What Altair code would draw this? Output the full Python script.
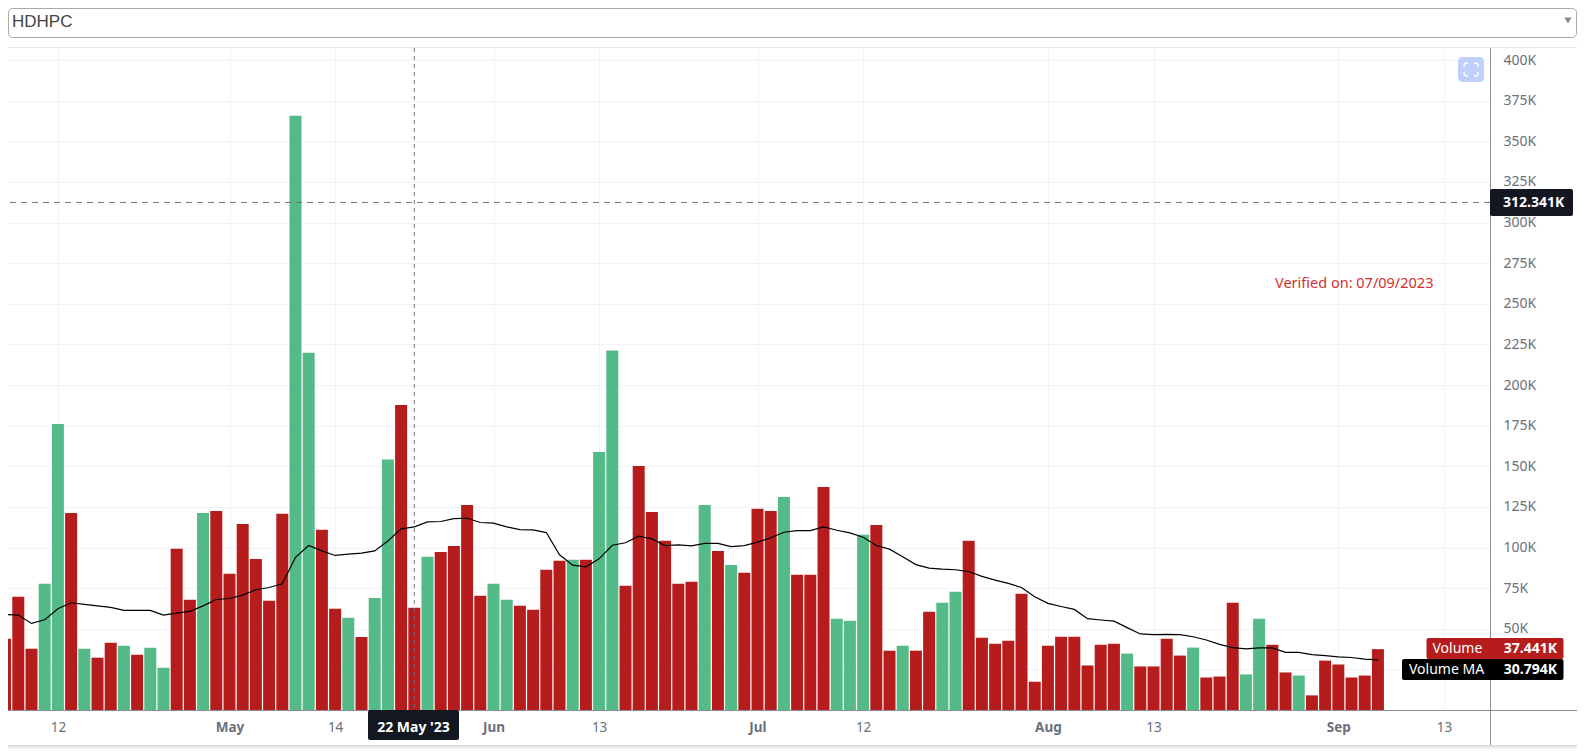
import altair as alt
import pandas as pd

# ---- values (volume in thousands) ----
volume = [43.8, 69.7, 37.7, 77.7, 176, 121.3, 37.7, 32.2, 41.4, 39.5, 34, 38.3, 26, 99.2, 67.8, 121.3, 122.5, 83.8, 114.5, 93,
          67.2, 120.7, 365.7, 219.9, 111, 62.3, 56.8, 45, 69, 154.1, 187.7, 62.9, 94.3, 97.3, 101, 126.2, 70.3, 77.7, 67.8, 64.1,
          61.7, 86.3, 91.8, 92.4, 92.4, 158.8, 221.3, 76.4, 150.2, 121.9, 104.1, 77.7, 78.9, 126.2, 97.9, 89.3, 84.4, 123.8, 122.5, 131.1,
          83.2, 83.2, 137.3, 56.1, 54.9, 107.8, 113.9, 36.5, 39.5, 36.5, 60.4, 66, 72.7, 104.1, 44.5, 40.8, 42.6, 71.5, 17.4, 39.5,
          45.1, 45.1, 27.4, 40.2, 40.8, 34.7, 26.8, 26.8, 43.9, 33.5, 38.4, 20, 20.6, 66, 21.9, 56.2, 40.2, 23.1, 21.2, 9,
          30.4, 28, 20, 21.2, 37.441]
green_bars = [3, 4, 6, 9, 11, 12, 15, 22, 23, 26, 28, 29, 32, 37, 38, 43, 45, 46, 53, 55, 59, 63, 64, 65, 68, 71, 72,
              85, 90, 94, 95, 98]
volume_ma = [58.8, 58.4, 53.3, 55.5, 62.3, 66, 65, 64.1, 63.1, 61.3, 61.3, 61.3, 58.4, 59.6, 60.7, 64.1, 68, 68.6, 70.7, 74,
             75.4, 77.7, 94, 101.2, 97.9, 95.1, 95.9, 96.5, 97.9, 104, 111.5, 112.7, 115.8, 116, 117.8, 118, 115.4, 115, 112.7, 111,
             110.9, 109.2, 95.5, 89.1, 88.1, 93, 101.4, 102.9, 107, 105.3, 101.2, 101.6, 101, 102.5, 102.5, 100.6, 101.2, 103.3, 105.9, 109.4,
             110.4, 110.4, 112.7, 110.6, 109, 106.3, 101.2, 99, 94.3, 89.5, 87.3, 86.7, 86.3, 85.2, 82.2, 79.9, 77.9, 75.4, 69.7, 65.6,
             63.7, 61.9, 56.2, 55.4, 54.7, 50.7, 46.8, 46.4, 46.6, 46.4, 45.1, 43.1, 40.4, 38.4, 37.6, 38.2, 38.2, 35.5, 35.5, 34.1,
             33.5, 32.7, 32.3, 31.3, 30.794]
tick_positions = [4, 17, 25, 37, 45, 57, 65, 79, 87, 101, 109]
tick_labels = ["12", "May", "14", "Jun", "13", "Jul", "12", "Aug", "13", "Sep", "13"]
month_ticks = [17, 37, 57, 79, 101]
y_ticks = list(range(25, 401, 25))
crosshair_bar = [31]
crosshair_value = [312.341]

RED, GREEN, INK, TEXT, GRID, AXIS = "#b71c1c", "#53ba88", "#131722", "#6b6f7c", "#f0f3fa", "#8a8c96"
CROSS = "#70757e"
FONT = "Noto Sans"

table = pd.DataFrame({
    "i": list(range(len(volume))),
    "volume": volume,
    "ma": volume_ma,
    "dir": ["up" if i in green_bars else "down" for i in range(len(volume))],
})
one = pd.DataFrame({"a": [0]})

OX, OY = 8, 48   # page position of the plot area
W, H = 1482, 662
TOTAL_W, TOTAL_H = 1569, 741


def box(x0, y0, x1, y1, **mark):
    return alt.Chart(one).mark_rect(**mark).encode(
        x=alt.value(x0 - OX), x2=alt.value(x1 - OX), y=alt.value(y0 - OY), y2=alt.value(y1 - OY))


def hline(x0, x1, y, **mark):
    return alt.Chart(one).mark_rule(**mark).encode(x=alt.value(x0 - OX), x2=alt.value(x1 - OX), y=alt.value(y - OY))


def label(x, y, text, **mark):
    opts = dict(font=FONT, fontSize=14, baseline="middle", align="left", color="white")
    opts.update(mark)
    return alt.Chart(one).mark_text(text=text, **opts).encode(x=alt.value(x - OX), y=alt.value(y - OY))


x_scale = alt.Scale(domain=[0.22, 112.49], nice=False, zero=False, padding=0)
y_scale = alt.Scale(domain=[0, 407.4], nice=False, zero=False)

x_expr = "[" + ",".join(f"'{t}'" for t in tick_labels) + "][indexof(" + str(tick_positions) + ", datum.value)]"
x_axis = alt.Axis(values=tick_positions, labelExpr=x_expr, title=None, domain=False, ticks=False, grid=True,
                  gridColor=GRID, gridWidth=1, labelColor=TEXT, labelFont=FONT, labelFontSize=13.5,
                  labelPadding=10, labelOverlap=False, labelFlush=False,
                  labelFontWeight={"condition": {"test": f"indexof({month_ticks}, datum.value) >= 0", "value": "bold"},
                                   "value": "normal"})
# the 25K label sits hidden under the Volume MA tag in the reference
y_axis = alt.Axis(values=y_ticks, orient="right", labelExpr="datum.value == 25 ? '' : datum.value + 'K'", title=None,
                  domain=False, ticks=False, grid=True, gridColor=GRID, gridWidth=1, labelColor=TEXT, labelFont=FONT,
                  labelFontSize=14, labelPadding=13, labelOverlap=False, labelFlush=False)

layers = []
# panel edge, soft bottom shadow and dropdown
layers.append(hline(8, 1577, 47.5, color="#e4e7ef", strokeWidth=1))
for offset, shade in [(0.5, "#d9d9d9"), (1.5, "#e3e3e3"), (2.5, "#ececec"), (3.5, "#f4f4f4")]:
    layers.append(hline(8, 1577, 745 + offset, color=shade, strokeWidth=1))
layers.append(box(8.5, 8.5, 1576.5, 37.5, fillOpacity=0, stroke="#aaaaaa", strokeWidth=1, cornerRadius=4))
layers.append(label(12, 22, "HDHPC", font="Liberation Sans", fontSize=17, color="#444444"))
layers.append(alt.Chart(one).mark_point(shape="triangle-down", filled=True, color="#888888", size=50, opacity=1).encode(
    x=alt.value(1568 - OX), y=alt.value(20.5 - OY)))

# data
bars = alt.Chart(table).mark_bar(size=12, clip=True).encode(
    x=alt.X("i:Q", scale=x_scale, axis=x_axis),
    y=alt.Y("volume:Q", scale=y_scale, axis=y_axis),
    color=alt.Color("dir:N", scale=alt.Scale(domain=["up", "down"], range=[GREEN, RED]), legend=None),
)
ma_line = alt.Chart(table).mark_line(color="black", strokeWidth=1.2, clip=True).encode(x="i:Q", y="ma:Q")
layers += [bars, ma_line]

# crosshair
layers.append(alt.Chart(pd.DataFrame({"i": crosshair_bar})).mark_rule(color=CROSS, strokeDash=[4, 4], strokeWidth=1).encode(x="i:Q"))
layers.append(alt.Chart(pd.DataFrame({"v": crosshair_value})).mark_rule(color=CROSS, strokeDash=[6, 5], strokeWidth=1).encode(y="v:Q"))

# axis lines
layers.append(hline(8, 1577, 710.5, color=AXIS, strokeWidth=1))
layers.append(alt.Chart(one).mark_rule(color=AXIS, strokeWidth=1).encode(
    x=alt.value(1490.5 - OX), y=alt.value(0), y2=alt.value(745 - OY)))

# annotation, button, tags
layers.append(label(1275, 284, "Verified on: 07/09/2023", color="#d32f2f", fontSize=14.5))
layers.append(box(1458, 57, 1484, 82, color="#bfd0ff", cornerRadius=4))
layers.append(box(1464, 63, 1478, 76, fillOpacity=0, stroke="white", strokeWidth=1.5, cornerRadius=3))
layers.append(box(1468, 61, 1474, 78, color="#bfd0ff"))
layers.append(box(1462, 67, 1480, 72, color="#bfd0ff"))

layers.append(box(1490, 189, 1573, 216, color=INK, cornerRadius=2))
layers.append(label(1503, 202.5, "312.341K", fontSize=14, fontWeight="bold"))
layers.append(box(368, 710, 459, 740, color=INK, cornerRadius=2))
layers.append(label(413.5, 728, "22 May '23", fontSize=14, fontWeight="bold", align="center"))
layers.append(box(1426.5, 638, 1563.5, 659, color=RED, cornerRadius=2))
layers.append(label(1432.5, 648.5, "Volume"))
layers.append(label(1557, 648.5, "37.441K", align="right", fontWeight="bold"))
layers.append(box(1402, 659, 1563.5, 680, color="black", cornerRadius=2))
layers.append(label(1409, 669.5, "Volume MA"))
layers.append(label(1557, 669.5, "30.794K", align="right", fontWeight="bold"))

chart = alt.layer(*layers).properties(
    width=W, height=H,
    padding={"left": 0, "top": OY - 8, "right": TOTAL_W - W, "bottom": TOTAL_H - (OY - 8) - H},
    autosize=alt.AutoSizeParams(type="none"),
).configure_view(strokeWidth=0)

chart.save("out.html", embed_options={"renderer": "svg", "actions": False})
